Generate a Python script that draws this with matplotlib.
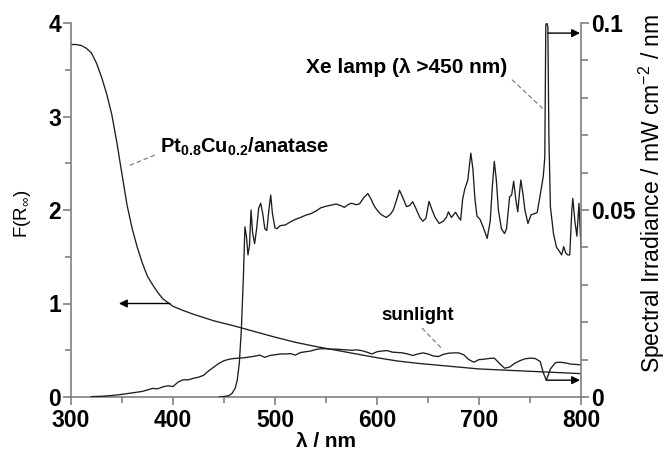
import matplotlib
matplotlib.use("Agg")
import matplotlib.pyplot as plt
from matplotlib.ticker import MultipleLocator, FuncFormatter

plt.rcParams["font.family"] = ["Liberation Sans", "DejaVu Sans"]
plt.rcParams["mathtext.default"] = "regular"

# Kubelka-Munk function of Pt0.8Cu0.2/anatase
wl_f = [300, 305, 310, 315, 320, 325, 330, 335, 340, 345, 350, 355, 360, 365,
        370, 375, 380, 385, 390, 395, 400, 410, 420, 430, 440, 460, 480, 500,
        520, 540, 560, 580, 600, 620, 640, 660, 680, 700, 720, 740, 760, 780, 800]
f_r = [3.77, 3.77, 3.76, 3.73, 3.68, 3.57, 3.42, 3.24, 3.02, 2.72, 2.38, 2.05,
       1.80, 1.60, 1.43, 1.29, 1.20, 1.12, 1.05, 1.01, 0.97, 0.925, 0.885, 0.85,
       0.815, 0.76, 0.70, 0.64, 0.585, 0.54, 0.50, 0.46, 0.42, 0.385, 0.36,
       0.34, 0.32, 0.30, 0.29, 0.28, 0.27, 0.26, 0.25]

# Solar spectral irradiance (mW cm-2 nm-1)
wl_sun = [320, 330, 340, 350, 360, 370, 380, 385, 390, 395, 400, 405, 410, 415,
          420, 425, 430, 435, 440, 445, 450, 455, 460, 465, 470, 475, 480, 485,
          490, 495, 500, 505, 510, 515, 520, 525, 530, 535, 540, 545, 550, 555,
          560, 565, 570, 575, 580, 585, 590, 595, 600, 605, 610, 615, 620, 625,
          630, 635, 640, 645, 650, 655, 660, 665, 670, 675, 680, 685, 690, 695,
          700, 705, 710, 715, 720, 725, 730, 735, 740, 745, 750, 755, 760, 763,
          766, 770, 775, 780, 785, 790, 795, 800]
sun = [0.0001, 0.0002, 0.0004, 0.0007, 0.0011, 0.0015, 0.0023, 0.0022, 0.0027,
       0.0030, 0.0028, 0.0040, 0.0046, 0.0046, 0.0050, 0.0053, 0.0058, 0.0070,
       0.0080, 0.0090, 0.0097, 0.0101, 0.0103, 0.0104, 0.0105, 0.0107, 0.0109,
       0.0112, 0.0106, 0.0111, 0.0113, 0.0115, 0.0115, 0.0116, 0.0112, 0.0119,
       0.0121, 0.0123, 0.0127, 0.0129, 0.0129, 0.0128, 0.0128, 0.0127, 0.0126,
       0.0125, 0.0126, 0.0124, 0.0120, 0.0115, 0.0121, 0.0123, 0.0124, 0.0120,
       0.0119, 0.0118, 0.0115, 0.0111, 0.0115, 0.0118, 0.0115, 0.0110, 0.0108,
       0.0114, 0.0117, 0.0118, 0.0118, 0.0113, 0.0100, 0.0093, 0.0100, 0.0101,
       0.0103, 0.0104, 0.0090, 0.0077, 0.0080, 0.0090, 0.0097, 0.0102, 0.0104,
       0.0103, 0.0095, 0.0065, 0.0045, 0.0075, 0.0092, 0.0093, 0.0091, 0.0088,
       0.0087, 0.0086]

# Xe lamp with 450 nm cut-off filter (mW cm-2 nm-1)
wl_xe = [445, 450, 455, 458, 461, 463, 465, 467, 469, 470.5, 472, 473.5, 475,
         476.5, 478, 480, 482, 484, 486, 488, 490, 492, 494, 495.8, 497.5, 500,
         502, 505, 510, 515, 520, 525, 530, 535, 540, 545, 550, 555, 560, 565,
         568, 572, 575, 580, 583, 587, 591, 594, 597, 600, 604, 609, 613, 616,
         619, 622, 625, 629, 632, 635, 638, 642, 645, 648, 651, 654, 657, 661,
         665, 668, 670, 673, 677, 680, 682, 684, 686, 689, 692, 694, 696, 698,
         701, 704, 708, 711, 713, 715, 717, 719, 722, 725, 727, 730, 732, 734,
         736, 738, 739.5, 741, 743, 745, 748, 751, 754, 757, 760, 763, 764.5,
         765.5, 766.5, 767.5, 768.5, 770, 773, 776, 778, 781, 783, 785, 787, 789,
         791, 792, 794, 796, 798, 800]
xe = [0.0, 0.0001, 0.0004, 0.0010, 0.0024, 0.0045, 0.0090, 0.0180, 0.0320,
      0.0455, 0.0430, 0.0380, 0.0405, 0.0500, 0.0440, 0.0410, 0.0450, 0.0505,
      0.0518, 0.0490, 0.0450, 0.0445, 0.0500, 0.0540, 0.0490, 0.0452, 0.0450,
      0.0458, 0.0460, 0.0468, 0.0475, 0.0480, 0.0486, 0.0490, 0.0497, 0.0506,
      0.0510, 0.0513, 0.0516, 0.0511, 0.0507, 0.0515, 0.0518, 0.0514, 0.0517,
      0.0533, 0.0544, 0.0530, 0.0512, 0.0500, 0.0488, 0.0480, 0.0488, 0.0500,
      0.0525, 0.0553, 0.0535, 0.0509, 0.0512, 0.0522, 0.0505, 0.0480, 0.0470,
      0.0478, 0.0523, 0.0500, 0.0480, 0.0464, 0.0470, 0.0480, 0.0495, 0.0480,
      0.0494, 0.0480, 0.0473, 0.0530, 0.0555, 0.0580, 0.0652, 0.0610, 0.0530,
      0.0484, 0.0475, 0.0455, 0.0424, 0.0470, 0.0560, 0.0630, 0.0580, 0.0500,
      0.0450, 0.0437, 0.0450, 0.0535, 0.0540, 0.0577, 0.0530, 0.0495, 0.0540,
      0.0580, 0.0545, 0.0500, 0.0464, 0.0487, 0.0490, 0.0493, 0.0540, 0.0590,
      0.0640, 0.0995, 0.1000, 0.0990, 0.0700, 0.0509, 0.0437, 0.0400, 0.0393,
      0.0380, 0.0402, 0.0385, 0.0380, 0.0380, 0.0500, 0.0531, 0.0470, 0.0430,
      0.0518, 0.0400]

line_color = "#1e1e1e"
axis_color = "#7f7f7f"

fig = plt.figure(figsize=(6.68, 4.55), dpi=100)
ax = fig.add_axes([71 / 668, 1 - 397 / 455, 510 / 668, 374 / 455])
ax2 = ax.twinx()

ax.plot(wl_f, f_r, color=line_color, lw=0.95)
ax2.plot(wl_sun, sun, color=line_color, lw=0.95)
ax2.plot(wl_xe, xe, color=line_color, lw=0.95)

ax.set_xlim(300, 800)
ax.set_ylim(0, 4)
ax2.set_ylim(0, 0.1)

ax.xaxis.set_major_locator(MultipleLocator(100))
ax.xaxis.set_minor_locator(MultipleLocator(50))
ax.yaxis.set_major_locator(MultipleLocator(1))
ax.yaxis.set_minor_locator(MultipleLocator(0.5))
ax2.yaxis.set_major_locator(MultipleLocator(0.05))
ax2.yaxis.set_minor_locator(MultipleLocator(0.01))
ax2.yaxis.set_major_formatter(FuncFormatter(lambda v, p: f"{v:g}"))

for a in (ax, ax2):
    for s in a.spines.values():
        s.set_color(axis_color)
        s.set_linewidth(1.2)
    a.spines["top"].set_visible(False)
ax.spines["right"].set_visible(False)
ax2.spines["left"].set_visible(False)
ax2.spines["bottom"].set_visible(False)

tick_size = 16.5
ax.tick_params(axis="both", which="major", direction="out", length=6, width=1.2,
               color=axis_color, labelsize=tick_size)
ax.tick_params(axis="both", which="minor", direction="out", length=4, width=1.2,
               color=axis_color)
ax.tick_params(axis="x", which="major", pad=2.5)
ax.tick_params(axis="y", which="major", pad=1)
ax2.tick_params(axis="y", which="major", direction="out", length=6, width=1.2,
                color=axis_color, pad=1.5, labelsize=tick_size)
ax2.tick_params(axis="y", which="minor", direction="out", length=5, width=1.2,
                color=axis_color)
for lab in ax.get_xticklabels() + ax.get_yticklabels() + ax2.get_yticklabels():
    lab.set_fontweight("bold")

ax.set_xlabel("λ / nm", fontsize=15, fontweight="bold")
ax.xaxis.set_label_coords(0.5, -0.093)
ax.set_ylabel("F(R$_{\\infty}$)", fontsize=13.5)
ax.yaxis.set_label_coords(-0.074, 0.49)
ax2.set_ylabel("Spectral Irradiance / mW cm$^{-2}$ / nm", fontsize=16.5)
ax2.yaxis.set_label_coords(1.11, 0.545)

# Arrows pointing each curve to its axis
arrow = dict(arrowstyle="-|>", color="black", lw=1.0, mutation_scale=12,
             shrinkA=0, shrinkB=0)
ax.annotate("", xy=(347, 1.0), xytext=(397, 1.0), arrowprops=arrow)
ax2.annotate("", xy=(799, 0.0973), xytext=(767.5, 0.0973), arrowprops=arrow)
ax2.annotate("", xy=(799, 0.0045), xytext=(766, 0.0045), arrowprops=arrow)

# Curve labels with dashed leaders
def leader(rel):
    return dict(arrowstyle="-", color=axis_color, lw=0.9, linestyle=(0, (3, 3)),
                shrinkA=2, shrinkB=0, relpos=rel)

ax.annotate("Pt$_{0.8}$Cu$_{0.2}$/anatase", xy=(358, 2.48), xytext=(387, 2.68),
            fontsize=14.5, fontweight="bold", va="center", ha="left",
            arrowprops=leader((0.0, 0.2)))
ax2.annotate("Xe lamp (λ >450 nm)", xy=(764.5, 0.0766), xytext=(728, 0.0880),
             fontsize=15, fontweight="bold", va="center", ha="right",
             arrowprops=leader((1.0, 0.1)))
ax2.annotate("sunlight", xy=(664, 0.0128), xytext=(640, 0.0219),
             fontsize=13.5, fontweight="bold", va="center", ha="center",
             arrowprops=leader((0.5, 0.0)))

fig.savefig("out.png", dpi=100)
